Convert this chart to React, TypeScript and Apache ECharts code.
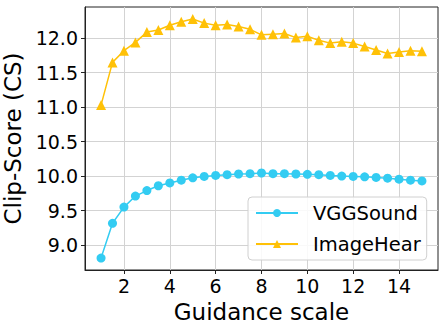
import React, { useEffect, useRef } from "react";
import * as echarts from "echarts";

const guidance = [1, 1.5, 2, 2.5, 3, 3.5, 4, 4.5, 5, 5.5, 6, 6.5, 7, 7.5, 8, 8.5, 9, 9.5, 10, 10.5, 11, 11.5, 12, 12.5, 13, 13.5, 14, 14.5, 15];
const vggSound = [8.81, 9.315, 9.55, 9.71, 9.79, 9.86, 9.9, 9.94, 9.975, 9.995, 10.01, 10.02, 10.03, 10.035, 10.045, 10.035, 10.035, 10.03, 10.025, 10.02, 10.01, 10.0, 9.995, 9.99, 9.98, 9.97, 9.955, 9.94, 9.93];
const imageHear = [11.03, 11.65, 11.82, 11.94, 12.09, 12.12, 12.19, 12.24, 12.28, 12.22, 12.19, 12.2, 12.17, 12.13, 12.05, 12.06, 12.07, 12.01, 12.03, 11.97, 11.93, 11.95, 11.93, 11.88, 11.83, 11.78, 11.8, 11.82, 11.81];
const xTicks = [2, 4, 6, 8, 10, 12, 14];
const yTicks = [9.0, 9.5, 10.0, 10.5, 11.0, 11.5, 12.0];
const seriesNames = ["VGGSound", "ImageHear"];

const FONT = "DejaVu Sans";

export default function App() {
  const ref = useRef<HTMLDivElement>(null);
  useEffect(() => {
    const chart = echarts.init(ref.current!, null, { renderer: "svg" });
    const axisCommon = {
      axisLine: { show: true, lineStyle: { color: "#222", width: 1 } },
      axisTick: { show: true, inside: false, length: 4, lineStyle: { color: "#222", width: 1 } },
      splitLine: { show: true, lineStyle: { color: "#d3d3d3", width: 1 } },
      nameTextStyle: { fontFamily: FONT, fontSize: 23, color: "#000" },
    };
    chart.setOption({
      animation: false,
      grid: {
        left: 85, top: 7, right: 8, bottom: 61,
        containLabel: false,
        outerBoundsMode: "none",
        show: true, borderColor: "#222", borderWidth: 1, backgroundColor: "transparent",
      },
      xAxis: {
        type: "value",
        min: 0.3,
        max: 15.7,
        name: "Guidance scale",
        nameLocation: "middle",
        nameGap: 30,
        ...axisCommon,
        axisTick: { ...axisCommon.axisTick, customValues: xTicks },
        axisLabel: {
          customValues: xTicks,
          fontFamily: FONT, fontSize: 19, color: "#000", margin: 6,
          formatter: (v: number) => String(v),
        },
      },
      yAxis: {
        type: "value",
        min: 8.637,
        max: 12.454,
        name: "Clip-Score (CS)",
        nameLocation: "middle",
        nameGap: 55,
        ...axisCommon,
        axisTick: { ...axisCommon.axisTick, customValues: yTicks },
        axisLabel: {
          customValues: yTicks,
          fontFamily: FONT, fontSize: 19, color: "#000", margin: 7,
          formatter: (v: number) => v.toFixed(1),
        },
      },
      legend: {
        orient: "vertical",
        left: 248,
        top: 197,
        padding: [6, 6, 6, 7],
        itemWidth: 42,
        itemHeight: 10,
        itemGap: 11,
        backgroundColor: "rgba(255,255,255,0.85)",
        borderColor: "#d0d0d0",
        borderWidth: 1,
        borderRadius: 4,
        textStyle: { fontFamily: FONT, fontSize: 19.5, color: "#000", padding: [0, 0, 0, 10] },
        data: seriesNames,
      },
      series: [
        {
          name: seriesNames[0],
          type: "line",
          data: guidance.map((x, i) => [x, vggSound[i]]),
          symbol: "circle",
          symbolSize: 9,
          lineStyle: { color: "#33ccf2", width: 1.5 },
          itemStyle: { color: "#33ccf2" },
          z: 3,
        },
        {
          name: seriesNames[1],
          type: "line",
          data: guidance.map((x, i) => [x, imageHear[i]]),
          symbol: "triangle",
          symbolSize: 10,
          lineStyle: { color: "#ffc107", width: 1.5 },
          itemStyle: { color: "#ffc107" },
          z: 3,
        },
      ],
    });
    return () => chart.dispose();
  }, []);
  return <div ref={ref} style={{ width: 446, height: 331, position: "absolute", left: 0, top: 0 }} />;
}
